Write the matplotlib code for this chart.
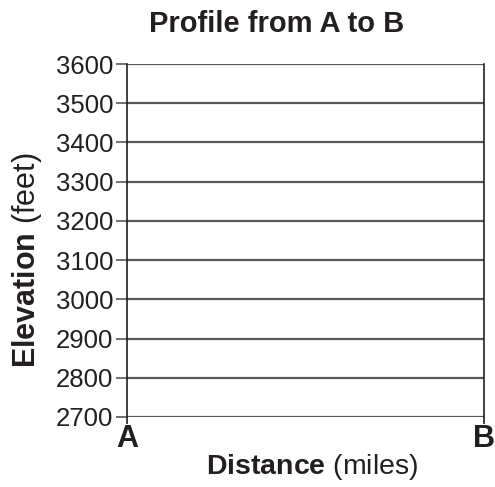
import numpy as np
import matplotlib.pyplot as plt

plt.rcParams['font.family'] = ['Liberation Sans', 'DejaVu Sans']
plt.rcParams['mathtext.fontset'] = 'custom'
plt.rcParams['mathtext.rm'] = 'Liberation Sans'
plt.rcParams['mathtext.bf'] = 'Liberation Sans:bold'

# Chart data
elevation_ticks = [2700, 2800, 2900, 3000, 3100, 3200, 3300, 3400, 3500, 3600]
end_labels = ['A', 'B']
end_positions = [0, 1]

title = 'Profile from A to B'
x_label = r'$\mathbf{Distance}$ (miles)'
y_label = r'$\mathbf{Elevation}$ (feet)'

text_color = '#231f20'

fig = plt.figure(figsize=(4.95, 4.87), dpi=100)
ax = fig.add_axes([127 / 495, 70 / 487, 357 / 495, 353 / 487])

ax.set_xlim(end_positions[0], end_positions[-1])
ax.set_ylim(elevation_ticks[0], elevation_ticks[-1])

# horizontal grid lines at each elevation tick
for y in elevation_ticks:
    ax.axhline(y, color='#58595b', linewidth=1.6, zorder=1)

ax.set_yticks(elevation_ticks)
ax.set_yticklabels([str(v) for v in elevation_ticks], fontsize=18.5, color=text_color)
ax.tick_params(axis='y', length=8, width=1.2, color='#58595b', pad=2)

ax.set_xticks(end_positions)
ax.set_xticklabels(end_labels, fontsize=22, fontweight='bold', color=text_color)
ax.tick_params(axis='x', length=5, width=1.2, color=text_color, pad=0)

for side in ['top', 'bottom']:
    ax.spines[side].set_visible(False)
for side in ['left', 'right']:
    ax.spines[side].set_color(text_color)
    ax.spines[side].set_linewidth(1.2)

# title sits left of the axes centre in the original
ttl = ax.set_title(title, fontsize=21, fontweight='bold', color=text_color, pad=23)
ttl.set_x(0.42)
ax.set_xlabel(x_label, fontsize=20.5, color=text_color)
ax.xaxis.set_label_coords(0.52, -0.1)
ax.set_ylabel(y_label, fontsize=22, color=text_color)
ax.yaxis.set_label_coords(-0.232, 0.445)

fig.savefig('out.png', dpi=100)
